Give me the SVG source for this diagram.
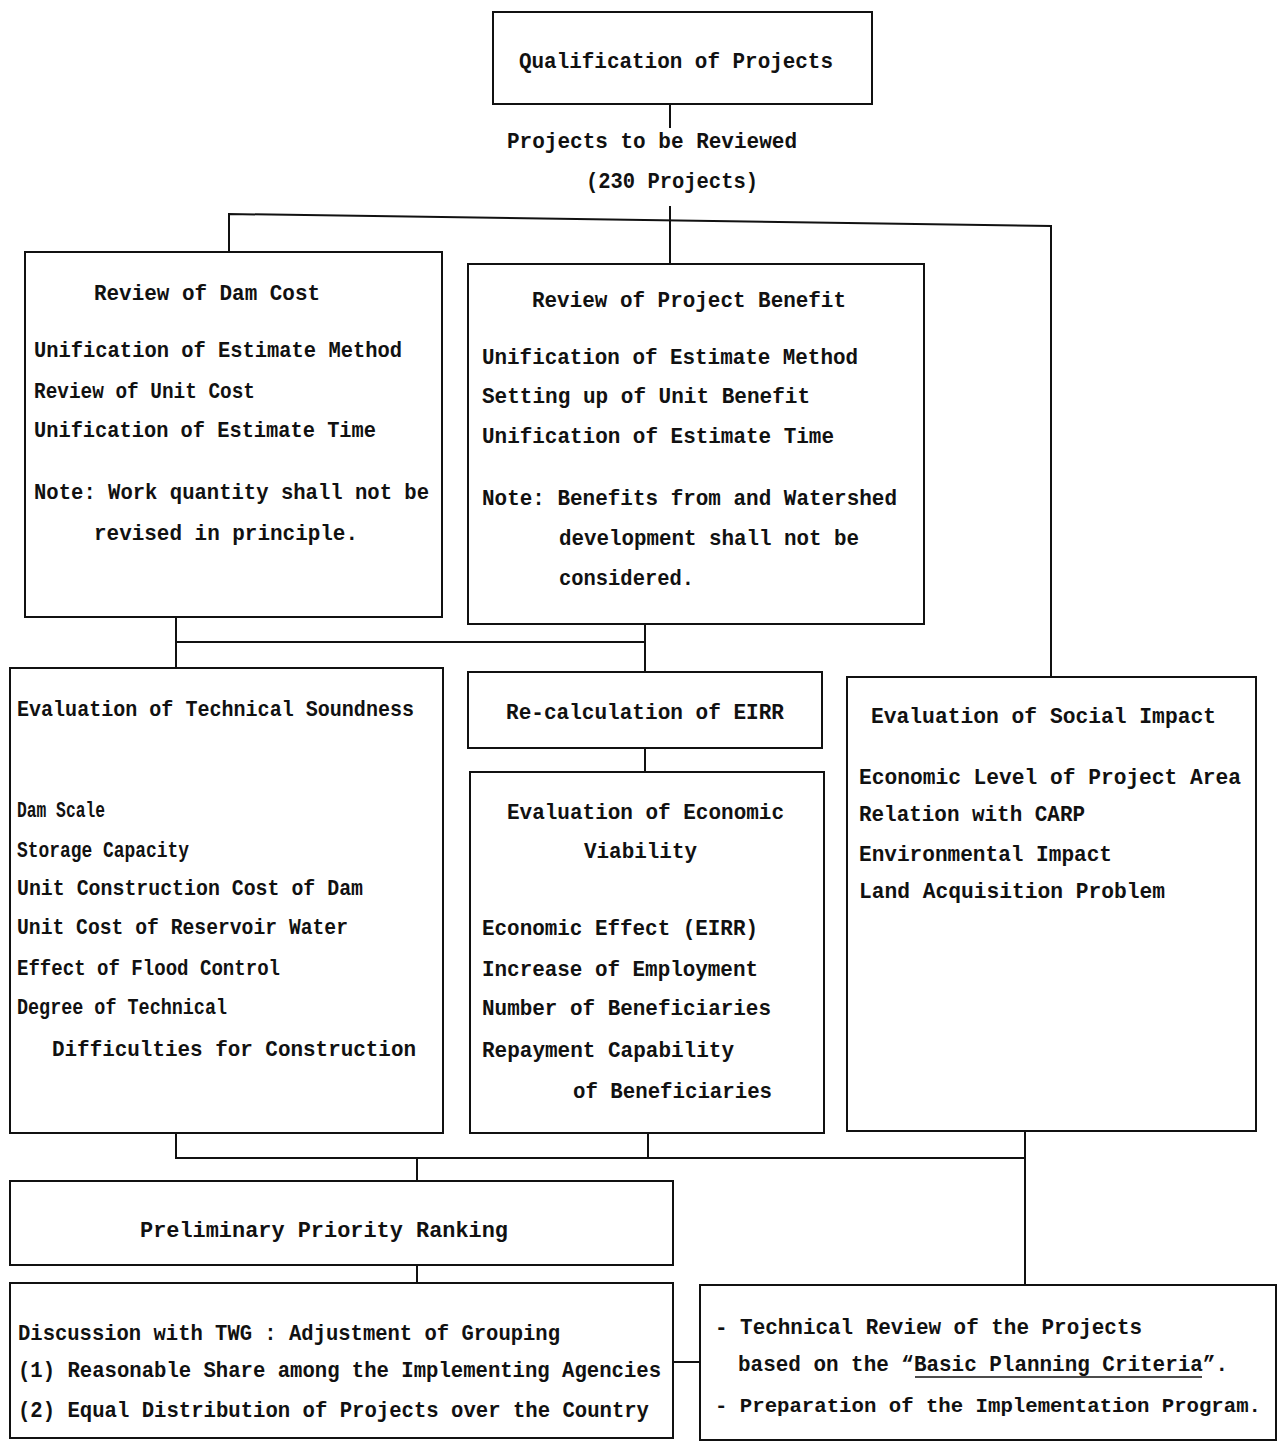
<svg xmlns="http://www.w3.org/2000/svg" width="1277" height="1443" viewBox="0 0 1277 1443">
<style>
.b{fill:none;stroke:#111;stroke-width:2}
.c line,.c polyline{fill:none;stroke:#111;stroke-width:2}
text{font-family:"Liberation Mono","DejaVu Sans Mono",monospace;font-size:22px;font-weight:bold;fill:#111}
text.s{font-size:20px}
</style>
<rect width="1277" height="1443" fill="#fff"/>
<g class="c" id="connectors">
<line x1="670" y1="104" x2="670" y2="128"/>
<line x1="670" y1="206" x2="670" y2="264"/>
<polyline points="229,252 229,214 1051,226 1051,677"/>
<line x1="176" y1="617" x2="176" y2="668"/>
<polyline points="176,642 645,642"/>
<line x1="645" y1="624" x2="645" y2="672"/>
<line x1="645" y1="748" x2="645" y2="772"/>
<polyline points="176,1133 176,1158 1025,1158"/>
<line x1="648" y1="1133" x2="648" y2="1158"/>
<line x1="1025" y1="1131" x2="1025" y2="1285"/>
<line x1="417" y1="1158" x2="417" y2="1181"/>
<line x1="417" y1="1265" x2="417" y2="1283"/>
<line x1="673" y1="1362" x2="700" y2="1362"/>
</g>
<g id="qualification">
<rect class="b" x="493" y="12" width="379" height="92"/>
<text x="519" y="68" textLength="314" lengthAdjust="spacingAndGlyphs">Qualification of Projects</text>
</g>
<g id="projects-label">
<text x="507" y="148" textLength="290" lengthAdjust="spacingAndGlyphs">Projects to be Reviewed</text>
<text x="586" y="188" textLength="172" lengthAdjust="spacingAndGlyphs">(230 Projects)</text>
</g>
<g id="dam-cost">
<rect class="b" x="25" y="252" width="417" height="365"/>
<text x="94" y="300" textLength="226" lengthAdjust="spacingAndGlyphs">Review of Dam Cost</text>
<text x="34" y="357" textLength="368" lengthAdjust="spacingAndGlyphs">Unification of Estimate Method</text>
<text x="34" y="398" textLength="221" lengthAdjust="spacingAndGlyphs">Review of Unit Cost</text>
<text x="34" y="437" textLength="342" lengthAdjust="spacingAndGlyphs">Unification of Estimate Time</text>
<text x="34" y="499" textLength="395" lengthAdjust="spacingAndGlyphs">Note: Work quantity shall not be</text>
<text x="94" y="540" textLength="264" lengthAdjust="spacingAndGlyphs">revised in principle.</text>
</g>
<g id="project-benefit">
<rect class="b" x="468" y="264" width="456" height="360"/>
<text x="532" y="307" textLength="314" lengthAdjust="spacingAndGlyphs">Review of Project Benefit</text>
<text x="482" y="364" textLength="376" lengthAdjust="spacingAndGlyphs">Unification of Estimate Method</text>
<text x="482" y="403" textLength="328" lengthAdjust="spacingAndGlyphs">Setting up of Unit Benefit</text>
<text x="482" y="443" textLength="352" lengthAdjust="spacingAndGlyphs">Unification of Estimate Time</text>
<text x="482" y="505" textLength="415" lengthAdjust="spacingAndGlyphs">Note: Benefits from and Watershed</text>
<text x="559" y="545" textLength="300" lengthAdjust="spacingAndGlyphs">development shall not be</text>
<text x="559" y="585" textLength="135" lengthAdjust="spacingAndGlyphs">considered.</text>
</g>
<g id="technical-soundness">
<rect class="b" x="10" y="668" width="433" height="465"/>
<text x="17" y="716" textLength="397" lengthAdjust="spacingAndGlyphs">Evaluation of Technical Soundness</text>
<text x="17" y="817" textLength="88" lengthAdjust="spacingAndGlyphs">Dam Scale</text>
<text x="17" y="857" textLength="172" lengthAdjust="spacingAndGlyphs">Storage Capacity</text>
<text x="17" y="895" textLength="346" lengthAdjust="spacingAndGlyphs">Unit Construction Cost of Dam</text>
<text x="17" y="934" textLength="331" lengthAdjust="spacingAndGlyphs">Unit Cost of Reservoir Water</text>
<text x="17" y="975" textLength="263" lengthAdjust="spacingAndGlyphs">Effect of Flood Control</text>
<text x="17" y="1014" textLength="210" lengthAdjust="spacingAndGlyphs">Degree of Technical</text>
<text x="52" y="1056" textLength="364" lengthAdjust="spacingAndGlyphs">Difficulties for Construction</text>
</g>
<g id="eirr">
<rect class="b" x="468" y="672" width="354" height="76"/>
<text x="506" y="719" textLength="278" lengthAdjust="spacingAndGlyphs">Re-calculation of EIRR</text>
</g>
<g id="economic-viability">
<rect class="b" x="470" y="772" width="354" height="361"/>
<text x="507" y="819" textLength="277" lengthAdjust="spacingAndGlyphs">Evaluation of Economic</text>
<text x="584" y="858" textLength="113" lengthAdjust="spacingAndGlyphs">Viability</text>
<text x="482" y="935" textLength="276" lengthAdjust="spacingAndGlyphs">Economic Effect (EIRR)</text>
<text x="482" y="976" textLength="276" lengthAdjust="spacingAndGlyphs">Increase of Employment</text>
<text x="482" y="1015" textLength="289" lengthAdjust="spacingAndGlyphs">Number of Beneficiaries</text>
<text x="482" y="1057" textLength="252" lengthAdjust="spacingAndGlyphs">Repayment Capability</text>
<text x="573" y="1098" textLength="199" lengthAdjust="spacingAndGlyphs">of Beneficiaries</text>
</g>
<g id="social-impact">
<rect class="b" x="847" y="677" width="409" height="454"/>
<text x="871" y="723" textLength="345" lengthAdjust="spacingAndGlyphs">Evaluation of Social Impact</text>
<text x="859" y="784" textLength="382" lengthAdjust="spacingAndGlyphs">Economic Level of Project Area</text>
<text x="859" y="821" textLength="226" lengthAdjust="spacingAndGlyphs">Relation with CARP</text>
<text x="859" y="861" textLength="253" lengthAdjust="spacingAndGlyphs">Environmental Impact</text>
<text x="859" y="898" textLength="306" lengthAdjust="spacingAndGlyphs">Land Acquisition Problem</text>
</g>
<g id="priority-ranking">
<rect class="b" x="10" y="1181" width="663" height="84"/>
<text x="140" y="1237" textLength="368" lengthAdjust="spacingAndGlyphs">Preliminary Priority Ranking</text>
</g>
<g id="discussion-twg">
<rect class="b" x="10" y="1283" width="663" height="155"/>
<text x="18" y="1340" textLength="542" lengthAdjust="spacingAndGlyphs">Discussion with TWG : Adjustment of Grouping</text>
<text x="18" y="1377" textLength="643" lengthAdjust="spacingAndGlyphs">(1) Reasonable Share among the Implementing Agencies</text>
<text x="18" y="1417" textLength="631" lengthAdjust="spacingAndGlyphs">(2) Equal Distribution of Projects over the Country</text>
</g>
<g id="technical-review">
<rect class="b" x="700" y="1285" width="576" height="155"/>
<text x="715" y="1334" textLength="427" lengthAdjust="spacingAndGlyphs">- Technical Review of the Projects</text>
<text x="738" y="1371" textLength="490" lengthAdjust="spacingAndGlyphs">based on the “Basic Planning Criteria”.</text>
<line x1="915" y1="1377" x2="1202" y2="1377" stroke="#111" stroke-width="1.5"/>
<text class="s" x="715" y="1412" textLength="546" lengthAdjust="spacingAndGlyphs">- Preparation of the Implementation Program.</text>
</g>
</svg>
